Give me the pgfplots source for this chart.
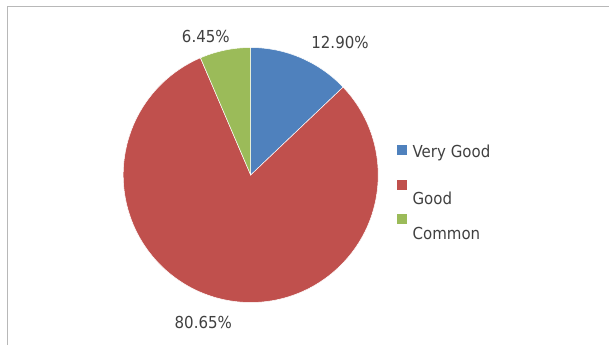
\documentclass[border=0pt]{standalone}
\usepackage{pgfplots}
\pgfplotsset{compat=1.18}
\usepackage{pgfplotstable}
\usepackage{fontspec}
\setmainfont{DejaVu Sans}[FakeStretch=0.91]
\definecolor{cblue}{HTML}{4F81BD}
\definecolor{cred}{HTML}{C0504D}
\definecolor{cgreen}{HTML}{9BBB59}
\definecolor{ctext}{HTML}{404040}
\pgfplotstableread{
name value
VeryGood 12.90
Good 80.65
Common 6.45
}\piedata
\pgfplotstablegetelem{0}{value}\of\piedata \let\vA\pgfplotsretval
\pgfplotstablegetelem{1}{value}\of\piedata \let\vB\pgfplotsretval
\pgfplotstablegetelem{2}{value}\of\piedata \let\vC\pgfplotsretval
\pgfmathsetmacro{\aA}{90}
\pgfmathsetmacro{\aB}{\aA-3.6*\vA}
\pgfmathsetmacro{\aC}{\aB-3.6*\vB}
\pgfmathsetmacro{\aD}{\aC-3.6*\vC}
\def\R{127.5pt}
\pgfkeys{/pgf/number format/.cd, fixed, fixed zerofill, precision=2, assume math mode=true}
\begin{document}
\begin{tikzpicture}
\begin{axis}[
  x=1pt, y=1pt,
  xmin=0, xmax=609, ymin=0, ymax=345,
  hide axis, clip=false,
  legend style={at={(axis cs:396.7,199.9)}, anchor=north west, draw=none, fill=none,
    inner sep=0pt, row sep=18.5pt, column sep=6.3pt,
    nodes={font=\fontsize{16.5}{20}\selectfont, text=ctext, inner sep=0pt,
      text height=12pt, text depth=3.5pt}},
  legend cell align=left,
]
\coordinate (bl) at (axis cs:0,0);
\coordinate (tr) at (axis cs:609,345);
\draw[black!28, line width=1pt] (axis cs:7.3,0) -- (axis cs:7.3,338) -- (axis cs:609,338);
\fill[cblue, draw=white, line width=0.5pt] (axis cs:250.7,170) -- ++(\aA:\R) arc[start angle=\aA, end angle=\aB, radius=\R] -- cycle;
\fill[cred, draw=white, line width=0.5pt] (axis cs:250.7,170) -- ++(\aB:\R) arc[start angle=\aB, end angle=\aC, radius=\R] -- cycle;
\fill[cgreen, draw=white, line width=0.5pt] (axis cs:250.7,170) -- ++(\aC:\R) arc[start angle=\aC, end angle=\aD, radius=\R] -- cycle;
\node[font=\fontsize{16.5}{20}\selectfont, text=ctext] at (axis cs:340,302.8) {\pgfmathprintnumber{\vA}\%};
\node[font=\fontsize{16.5}{20}\selectfont, text=ctext] at (axis cs:205.8,309) {\pgfmathprintnumber{\vC}\%};
\node[font=\fontsize{16.5}{20}\selectfont, text=ctext] at (axis cs:203.3,22.8) {\pgfmathprintnumber{\vB}\%};
\addlegendimage{legend image code/.code={\fill[cblue] (0pt,-1pt) rectangle (9pt,8pt);}}
\addlegendentry{Very Good}
\addlegendimage{legend image code/.code={\fill[cred] (0pt,-1pt) rectangle (9pt,8pt);}}
\addlegendentry{\raisebox{-12.4pt}[0pt][0pt]{Good}}
\addlegendimage{legend image code/.code={\fill[cgreen] (0pt,-1pt) rectangle (9pt,8pt);}}
\addlegendentry{\raisebox{-12.4pt}[0pt][0pt]{Common}}
\end{axis}
\pgfresetboundingbox
\path (bl) rectangle (tr);
\end{tikzpicture}
\end{document}
